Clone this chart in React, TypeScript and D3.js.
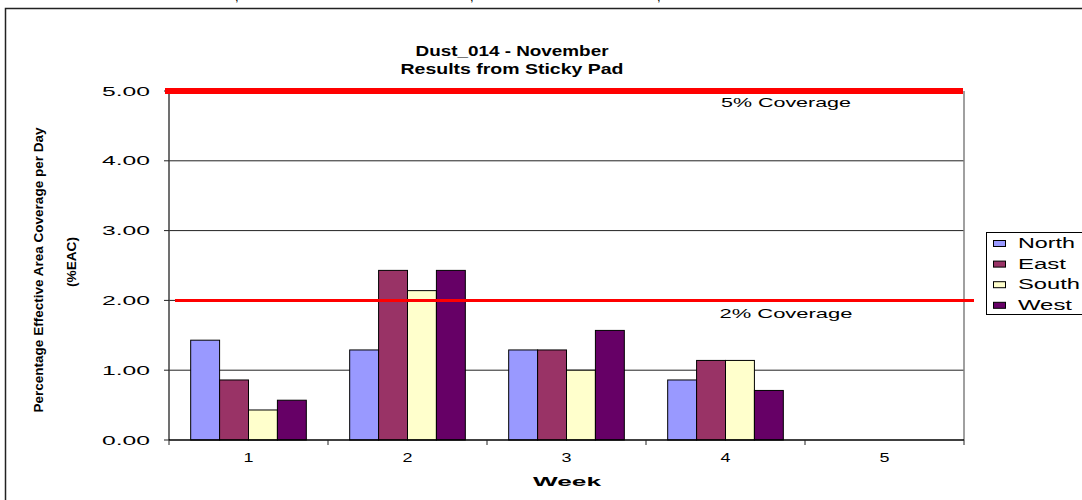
import React from "react";
import * as d3 from "d3";

// data
const weeks = ["1", "2", "3", "4", "5"];
const seriesNames = ["North", "East", "South", "West"];
const northValues = [1.43, 1.29, 1.29, 0.86, 0];
const eastValues = [0.86, 2.43, 1.29, 1.14, 0];
const southValues = [0.43, 2.14, 1.0, 1.14, 0];
const westValues = [0.57, 2.43, 1.57, 0.71, 0];
const yTicks = [0, 1, 2, 3, 4, 5];
const coverageLevels = [5, 2];
const coverageLabels = ["5% Coverage", "2% Coverage"];

const colors = ["#9999FF", "#993366", "#FFFFCC", "#660066"];
const font = "'Liberation Sans', Arial, sans-serif";

const width = 1082;
const height = 500;
const plot = { left: 169, right: 964, top: 91, bottom: 440 };

export default function App() {
  const values = [northValues, eastValues, southValues, westValues];

  const x = d3.scaleBand<string>().domain(weeks).range([plot.left, plot.right]).padding(0);
  const bw = x.bandwidth();
  // Excel-style gap width of 150%
  const gap = (bw * 0.75) / 5.5;
  const sub = d3.scaleBand<string>().domain(seriesNames).range([gap, bw - gap]).padding(0);
  const y = d3.scaleLinear().domain([0, 5]).range([plot.bottom, plot.top]);

  const bars = [];
  weeks.forEach((w, i) => {
    seriesNames.forEach((s, j) => {
      const v = values[j][i];
      if (v <= 0) return;
      bars.push(
        <rect
          key={w + s}
          x={(x(w) as number) + (sub(s) as number)}
          y={y(v)}
          width={sub.bandwidth()}
          height={y(0) - y(v)}
          fill={colors[j]}
          stroke="#000"
          strokeWidth={1}
        />
      );
    });
  });

  const xBounds = weeks.map((w) => x(w) as number).concat([plot.right]);

  // label widths (text there is stretched)
  const tickLabelWidth = 48;
  const coverageLabelWidth = [130, 133];
  const coverageBaseline = [107, 318];
  const legendWidths = [57, 48, 62, 54];

  return (
    <svg
      width={width}
      height={height}
      style={{ position: "absolute", left: 0, top: 0, background: "#fff" }}
      fontFamily={font}
    >
      <rect x={0} y={0} width={width} height={height} fill="#fff" />

      {/* clipped glyphs from text above the frame */}
      {[235, 470, 657].map((cx) => (
        <text key={cx} x={cx} y={1} fontSize={13} fill="#000">,</text>
      ))}

      {/* chart frame */}
      <rect x={5.5} y={8.5} width={1100} height={520} fill="none" stroke="#222" strokeWidth={1.5} />

      {/* title */}
      <text x={512} y={56} textAnchor="middle" fontSize={15} fontWeight="bold" textLength={193} lengthAdjust="spacingAndGlyphs">
        Dust_014 - November
      </text>
      <text x={512} y={74} textAnchor="middle" fontSize={15} fontWeight="bold" textLength={223} lengthAdjust="spacingAndGlyphs">
        Results from Sticky Pad
      </text>

      {/* gridlines */}
      {yTicks.filter((t) => t > 0 && t < 5).map((t) => (
        <line key={t} x1={plot.left} x2={plot.right} y1={y(t)} y2={y(t)} stroke="#222" strokeWidth={1} />
      ))}

      {/* plot border right */}
      <line x1={plot.right} x2={plot.right} y1={plot.top} y2={plot.bottom} stroke="#808080" strokeWidth={1.5} />

      {bars}

      {/* y axis */}
      <line x1={plot.left} x2={plot.left} y1={plot.top} y2={plot.bottom} stroke="#404040" strokeWidth={1.5} />
      {yTicks.map((t) => (
        <g key={t}>
          <line x1={plot.left - 5} x2={plot.left} y1={y(t)} y2={y(t)} stroke="#222" />
          <text x={150} y={y(t) + 4.5} textAnchor="end" fontSize={12} textLength={tickLabelWidth} lengthAdjust="spacingAndGlyphs">
            {t.toFixed(2)}
          </text>
        </g>
      ))}

      {/* x axis */}
      <line x1={plot.left} x2={plot.right} y1={plot.bottom} y2={plot.bottom} stroke="#000" strokeWidth={1.5} />
      {xBounds.map((bx, i) => (
        <line key={i} x1={bx} x2={bx} y1={plot.bottom} y2={plot.bottom + 5} stroke="#222" />
      ))}
      {weeks.map((w) => (
        <text key={w} x={(x(w) as number) + bw / 2} y={462} textAnchor="middle" fontSize={12} textLength={10} lengthAdjust="spacingAndGlyphs">
          {w}
        </text>
      ))}
      <text x={567} y={486} textAnchor="middle" fontSize={13} fontWeight="bold" textLength={68} lengthAdjust="spacingAndGlyphs">
        Week
      </text>

      {/* y axis title */}
      <text transform="translate(43,270) rotate(-90)" textAnchor="middle" fontSize={13} fontWeight="bold" textLength={285} lengthAdjust="spacingAndGlyphs">
        Percentage Effective Area Coverage per Day
      </text>
      <text transform="translate(76,262) rotate(-90)" textAnchor="middle" fontSize={13} fontWeight="bold" textLength={50} lengthAdjust="spacingAndGlyphs">
        (%EAC)
      </text>

      {/* coverage thresholds */}
      {coverageLevels.map((lvl, i) => (
        <g key={lvl}>
          <line
            x1={i === 0 ? plot.left - 4 : plot.left + 6}
            x2={i === 0 ? plot.right - 1 : plot.right + 10}
            y1={y(lvl)}
            y2={y(lvl)}
            stroke="#FF0000"
            strokeWidth={i === 0 ? 6 : 3}
          />
          <text x={786} y={coverageBaseline[i]} textAnchor="middle" fontSize={13} textLength={coverageLabelWidth[i]} lengthAdjust="spacingAndGlyphs">
            {coverageLabels[i]}
          </text>
        </g>
      ))}

      {/* legend */}
      <rect x={986.5} y={232.5} width={120} height={82} fill="#fff" stroke="#000" strokeWidth={1} />
      {seriesNames.map((s, i) => {
        const base = 248 + i * 20.6;
        return (
          <g key={s}>
            <rect x={993.5} y={base - 7.5} width={12} height={6} fill={colors[i]} stroke="#000" strokeWidth={1} />
            <text x={1018} y={base} fontSize={14} textLength={legendWidths[i]} lengthAdjust="spacingAndGlyphs">
              {s}
            </text>
          </g>
        );
      })}
    </svg>
  );
}
